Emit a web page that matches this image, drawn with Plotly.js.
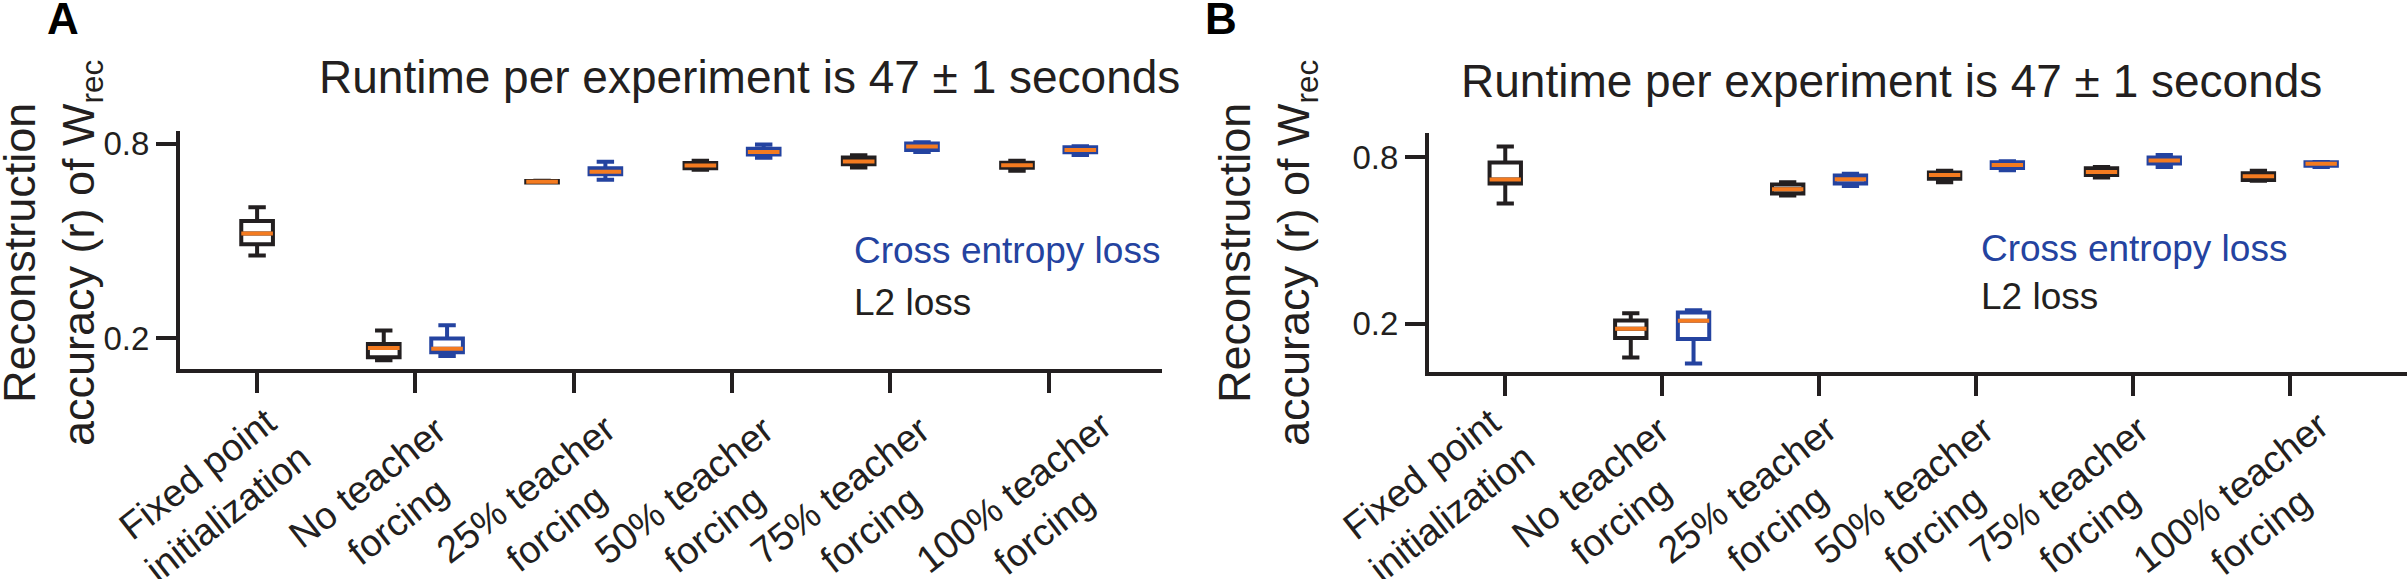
<!DOCTYPE html>
<html>
<head>
<meta charset="utf-8">
<script src="https://cdn.plot.ly/plotly-3.0.1.min.js"></script>
<style>html,body{margin:0;padding:0;background:#fff;}#chart{width:2407px;height:579px;}</style>
</head>
<body>
<div id="chart"></div>
<script>
// ---------- data ----------
const categories = ['Fixed point<br>initialization', 'No teacher<br>forcing', '25% teacher<br>forcing',
  '50% teacher<br>forcing', '75% teacher<br>forcing', '100% teacher<br>forcing'];
const titleText = 'Runtime per experiment is 47 ± 1 seconds';
const yTitleText = 'Reconstruction<br>accuracy (r) of W<sub>rec</sub>';
const seriesNames = ['Cross entropy loss', 'L2 loss'];
const yTickVals = [0.2, 0.8];
const yTickText = ['0.2', '0.8'];

// Panel A — L2 loss (all 6 categories)
const aL2Lower  = [0.455, 0.131, 0.681, 0.720, 0.727, 0.717];
const aL2Q1     = [0.490, 0.140, 0.681, 0.725, 0.737, 0.726];
const aL2Median = [0.523, 0.169, 0.683, 0.733, 0.746, 0.734];
const aL2Q3     = [0.562, 0.181, 0.685, 0.741, 0.758, 0.742];
const aL2Upper  = [0.604, 0.223, 0.686, 0.748, 0.765, 0.748];
// Panel A — Cross entropy loss (categories 1..5)
const aCELower  = [0.144, 0.689, 0.757, 0.775, 0.766];
const aCEQ1     = [0.156, 0.706, 0.767, 0.781, 0.774];
const aCEMedian = [0.167, 0.714, 0.775, 0.792, 0.781];
const aCEQ3     = [0.198, 0.725, 0.785, 0.801, 0.790];
const aCEUpper  = [0.239, 0.745, 0.798, 0.805, 0.793];

// Panel B — L2 loss
const bL2Lower  = [0.633, 0.079, 0.662, 0.710, 0.727, 0.715];
const bL2Q1     = [0.705, 0.149, 0.669, 0.722, 0.736, 0.718];
const bL2Median = [0.720, 0.183, 0.685, 0.736, 0.747, 0.731];
const bL2Q3     = [0.781, 0.212, 0.702, 0.745, 0.760, 0.742];
const bL2Upper  = [0.838, 0.238, 0.710, 0.751, 0.765, 0.751];
// Panel B — Cross entropy loss
const bCELower  = [0.058, 0.696, 0.753, 0.765, 0.765];
const bCEQ1     = [0.146, 0.705, 0.761, 0.777, 0.769];
const bCEMedian = [0.211, 0.721, 0.772, 0.788, 0.776];
const bCEQ3     = [0.241, 0.734, 0.782, 0.799, 0.782];
const bCEUpper  = [0.249, 0.740, 0.785, 0.808, 0.783];

// ---------- styling / layout ----------
const BLACK = '#231f20', BLUE = '#2443a0', ORANGE = '#f47b20';
const FONT = 'Liberation Sans, Arial, Helvetica, sans-serif';
const OFF = 0.2, BOXW = 0.2, LW = 4;
// placement of the rotated category labels (pixel offset of label centre from its tick, centre height)
const labelDx = [-45, -33, -33, -33, -35, -20];
const labelYc = [493, 501, 508, 509, 509, 511];
const panelBShift = -24;

const catPos = categories.map((c, i) => i);
const xL2 = catPos.map(i => i === 0 ? i : i - OFF);
const xCE = catPos.slice(1).map(i => i + OFF);

function boxTrace(x, lo, q1, med, q3, hi, color, xa, ya) {
  return {type: 'box', x: x, lowerfence: lo, q1: q1, median: med, q3: q3, upperfence: hi,
    xaxis: xa, yaxis: ya, width: BOXW, whiskerwidth: 0.55, boxpoints: false,
    line: {color: color, width: LW}, fillcolor: '#ffffff', hoverinfo: 'skip', showlegend: false};
}
function medTrace(x, med, xa, ya) {
  return {type: 'box', x: x, lowerfence: med, q1: med, median: med, q3: med, upperfence: med,
    xaxis: xa, yaxis: ya, width: BOXW, whiskerwidth: 0, boxpoints: false,
    line: {color: ORANGE, width: LW}, fillcolor: 'rgba(0,0,0,0)', hoverinfo: 'skip', showlegend: false};
}

const data = [
  boxTrace(xL2, aL2Lower, aL2Q1, aL2Median, aL2Q3, aL2Upper, BLACK, 'x', 'y'),
  boxTrace(xCE, aCELower, aCEQ1, aCEMedian, aCEQ3, aCEUpper, BLUE, 'x', 'y'),
  medTrace(xL2, aL2Median, 'x', 'y'),
  medTrace(xCE, aCEMedian, 'x', 'y'),
  boxTrace(xL2, bL2Lower, bL2Q1, bL2Median, bL2Q3, bL2Upper, BLACK, 'x2', 'y2'),
  boxTrace(xCE, bCELower, bCEQ1, bCEMedian, bCEQ3, bCEUpper, BLUE, 'x2', 'y2'),
  medTrace(xL2, bL2Median, 'x2', 'y2'),
  medTrace(xCE, bCEMedian, 'x2', 'y2')
];

const W = 2407, H = 579;
function xAxis(domain, range, anchor) {
  return {domain: domain, range: range, anchor: anchor, tickmode: 'array',
    tickvals: catPos, ticktext: categories, showticklabels: false,
    ticks: 'outside', ticklen: 20, tickwidth: LW, tickcolor: BLACK,
    showline: true, linewidth: LW, linecolor: BLACK, showgrid: false, zeroline: false,
    fixedrange: true};
}
function yAxis(domain, range, anchor) {
  return {domain: domain, range: range, anchor: anchor, tickmode: 'array',
    tickvals: yTickVals, ticktext: yTickText,
    ticks: 'outside', ticklen: 20, tickwidth: LW, tickcolor: BLACK,
    showline: true, linewidth: LW, linecolor: BLACK, showgrid: false, zeroline: false,
    tickfont: {family: FONT, size: 33, color: BLACK}, fixedrange: true};
}

function ann(text, x, y, size, color, xanchor, extra) {
  return Object.assign({text: text, xref: 'paper', yref: 'paper', x: x / W, y: 1 - y / H,
    xanchor: xanchor, yanchor: 'middle', showarrow: false,
    font: {family: FONT, size: size, color: color}}, extra || {});
}
// rotated, centre-aligned two-line category labels under each tick
function catLabels(xref, shift) {
  return categories.map((c, i) => ({text: c, xref: xref, yref: 'paper', x: i, y: 1 - labelYc[i] / H,
    xshift: labelDx[i] + shift, xanchor: 'center', yanchor: 'middle', align: 'center', textangle: -38,
    showarrow: false, font: {family: FONT, size: 38, color: BLACK}}));
}

const layout = {
  width: W, height: H, margin: {l: 0, r: 0, t: 0, b: 0},
  paper_bgcolor: '#ffffff', plot_bgcolor: '#ffffff', showlegend: false, boxmode: 'overlay',
  xaxis: xAxis([180 / W, 1162 / W], [-0.487, 5.716], 'y'),
  yaxis: yAxis([1 - 369 / H, 1 - 131 / H], [0.104, 0.84], 'x'),
  xaxis2: xAxis([1429 / W, 1], [-0.486, 5.747], 'y2'),
  yaxis2: yAxis([1 - 372 / H, 1 - 133 / H], [0.027, 0.887], 'x2'),
  annotations: [
    ann('<b>A</b>', 63, 19, 44, '#000000', 'center'),
    ann('<b>B</b>', 1221, 19, 44, '#000000', 'center'),
    ann(titleText, 749, 77, 46, BLACK, 'center'),
    ann(titleText, 1891, 81, 46, BLACK, 'center'),
    ann(yTitleText, 52, 253, 45, BLACK, 'center', {textangle: -90}),
    ann(yTitleText, 1267, 253, 45, BLACK, 'center', {textangle: -90}),
    ann(seriesNames[0], 852, 250, 37, BLUE, 'left'),
    ann(seriesNames[1], 852, 302, 37, BLACK, 'left'),
    ann(seriesNames[0], 1979, 249, 37, BLUE, 'left'),
    ann(seriesNames[1], 1979, 296, 37, BLACK, 'left')
  ].concat(catLabels('x', 0), catLabels('x2', panelBShift))
};

Plotly.newPlot('chart', data, layout, {displayModeBar: false, staticPlot: true});
</script>
</body>
</html>
